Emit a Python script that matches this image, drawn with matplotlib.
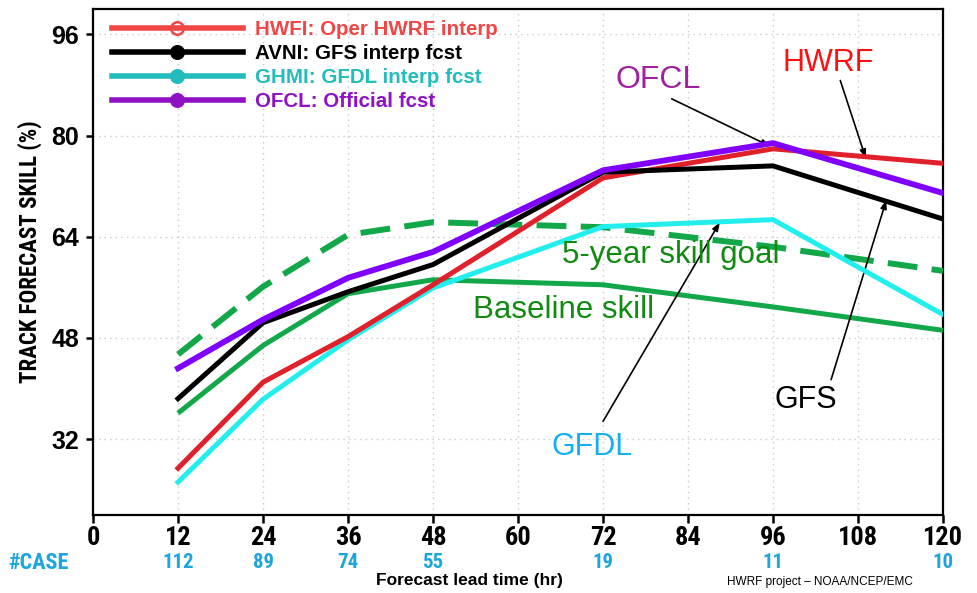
import matplotlib
matplotlib.use('Agg')
import matplotlib.pyplot as plt
from matplotlib.lines import Line2D

# forecast lead times (hr) and number of verifying cases
lead_hr = [12, 24, 36, 48, 72, 96, 120]
n_cases = [112, 89, 74, 55, 19, 11, 10]

# track forecast skill (%) relative to CLIPER
hwfi_skill = [27.4, 41.0, 48.2, 56.4, 73.3, 77.9, 75.6]
avni_skill = [38.4, 50.4, 55.3, 59.6, 74.2, 75.2, 66.8]
ghmi_skill = [25.2, 38.3, 47.7, 55.9, 65.6, 66.7, 51.7]
ofcl_skill = [43.2, 50.9, 57.5, 61.6, 74.5, 78.8, 70.9]
baseline_skill = [36.1, 46.8, 55.0, 57.2, 56.4, 52.9, 49.2]
goal_skill = [45.4, 56.1, 64.3, 66.3, 65.5, 62.4, 58.6]

legend_labels = ['HWFI: Oper HWRF interp', 'AVNI: GFS interp fcst',
                 'GHMI: GFDL interp fcst', 'OFCL: Official fcst']

x_ticks = list(range(0, 121, 12))
y_ticks = [32, 48, 64, 80, 96]

NARROW = ['Roboto Condensed', 'Liberation Sans Narrow', 'Liberation Sans', 'DejaVu Sans']
SANS = ['Liberation Sans', 'DejaVu Sans']
plt.rcParams['font.family'] = SANS

fig = plt.figure(figsize=(9.77, 5.93), dpi=100)
ax = fig.add_axes([0.0952, 0.1315, 0.8700, 0.8533])

green = '#12a84a'
lw = 3.6
ax.plot(lead_hr, baseline_skill, color=green, lw=lw, solid_capstyle='butt', zorder=3)
ax.plot(lead_hr, goal_skill, color=green, lw=4.3, dashes=(5, 2.4), zorder=3)
ax.plot(lead_hr, ghmi_skill, color='#22eeee', lw=lw, zorder=4)
ax.plot(lead_hr, hwfi_skill, color='#e0202a', lw=lw, zorder=5)
ax.plot(lead_hr, avni_skill, color='black', lw=lw, zorder=6)
ax.plot(lead_hr, ofcl_skill, color='#7f00ff', lw=4.2, zorder=7)

ax.set_xlim(0, 120)
ax.set_ylim(20, 100)
ax.set_xticks(x_ticks)
ax.set_yticks(y_ticks)
ax.grid(True, color='#c8c8c8', lw=1.0, linestyle=(0, (1, 3)))
ax.set_axisbelow(True)
for sp in ax.spines.values():
    sp.set_linewidth(1.6)
ax.tick_params(axis='y', direction='out', length=5, width=1.8, pad=5)
ax.tick_params(axis='x', direction='out', length=6, width=1.8, pad=2)
for lab in ax.get_yticklabels():
    lab.set_fontsize(18)
    lab.set_fontweight('bold')
for lab in ax.get_xticklabels():
    lab.set_fontsize(19)
    lab.set_fontweight('bold')
    lab.set_family(NARROW)

# legend with the GrADS style colours
leg_colors = ['#f04646', 'black', '#22bcbc', '#9010c4']
handles = []
for i, c in enumerate(leg_colors):
    handles.append(Line2D([], [], color=c, lw=4, marker='o', markersize=9,
                          markerfacecolor='none' if i == 0 else c,
                          markeredgewidth=1.8))
leg = ax.legend(handles, legend_labels, loc='upper left', frameon=False,
                bbox_to_anchor=(0.011, 0.996),
                handlelength=6.4, handletextpad=0.6, labelspacing=0.24,
                borderaxespad=0.05, numpoints=1,
                prop={'family': SANS, 'weight': 'bold', 'size': 14.8})
for txt, c in zip(leg.get_texts(), leg_colors):
    txt.set_color(c)

# case counts under each lead time
case_color = '#1ea6dc'
trans = ax.get_xaxis_transform()
ax.text(-12.0, -0.094, '#CASE', transform=trans, ha='left', va='center',
        color=case_color, fontsize=16, fontweight='bold', family=NARROW)
for h, n in zip(lead_hr, n_cases):
    ax.text(h, -0.094, str(n), transform=trans, ha='center', va='center',
            color=case_color, fontsize=15, fontweight='bold', family=NARROW)

ax.text(53.2, -0.129, 'Forecast lead time (hr)', transform=trans, ha='center',
        va='center', fontsize=12.5, fontweight='bold')
fig.text(727 / 977, 1 - 582 / 593, 'HWRF project \u2013 NOAA/NCEP/EMC',
         ha='left', va='center', fontsize=8.5)
fig.text(30 / 977, 1 - 252 / 593, 'TRACK FORECAST SKILL (%)', rotation=90,
         ha='center', va='center', fontsize=16.5, fontweight='bold', family=NARROW)

# model labels with pointers
arrow = dict(arrowstyle='-|>,head_length=0.5,head_width=0.18', color='black',
             lw=1.2, shrinkA=0, shrinkB=0)
ax.text(103.8, 91.5, 'HWRF', color='#ff1010', fontsize=22, ha='center', va='center')
ax.annotate('', xy=(109.1, 76.4), xytext=(105.5, 88.7), arrowprops=arrow)
ax.text(79.8, 88.7, 'OFCL', color='#a020a0', fontsize=23, ha='center', va='center')
ax.annotate('', xy=(95.6, 78.3), xytext=(81.7, 85.8), arrowprops=arrow)
ax.text(70.4, 30.8, 'GFDL', color='#12b0ee', fontsize=22, ha='center', va='center')
ax.annotate('', xy=(88.5, 66.3), xytext=(72.0, 34.8), arrowprops=arrow)
ax.text(100.7, 38.2, 'GFS', color='black', fontsize=22, ha='center', va='center')
ax.annotate('', xy=(112.0, 69.8), xytext=(104.2, 41.4), arrowprops=arrow)

ax.text(81.5, 61.1, '5-year skill goal', color='#108a10', fontsize=22.5,
        ha='center', va='center', zorder=8)
ax.text(66.5, 52.4, 'Baseline skill', color='#108a10', fontsize=22.5,
        ha='center', va='center', zorder=8)

fig.savefig('out.png', dpi=100, facecolor='white')
